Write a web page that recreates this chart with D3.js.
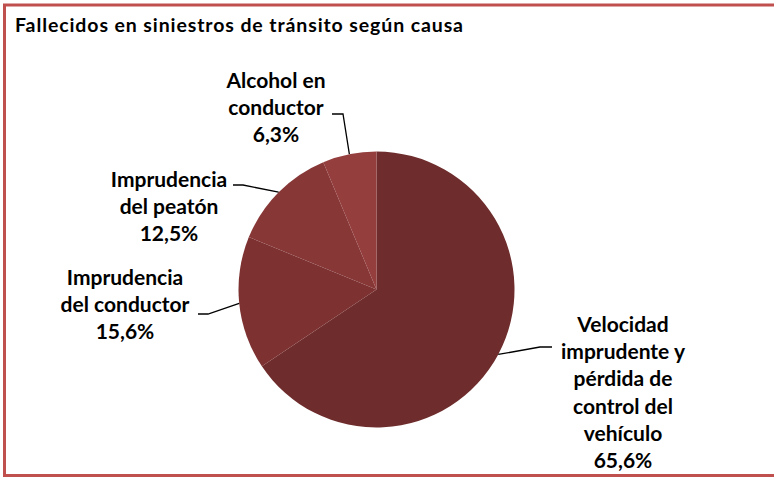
<!DOCTYPE html>
<html>
<head>
<meta charset="utf-8">
<style>
  body { margin: 0; background: #fff; }
  text { font-family: Lato, "Open Sans", sans-serif; font-weight: bold; fill: #000; }
</style>
</head>
<body>
<script src="https://cdn.jsdelivr.net/npm/d3@7/dist/d3.min.js"></script>
<script>
// chart data
var categories = ["Velocidad imprudente y pérdida de control del vehículo",
                  "Imprudencia del conductor",
                  "Imprudencia del peatón",
                  "Alcohol en conductor"];
var values = [65.6, 15.6, 12.5, 6.3];
var labelLines = [
  ["Velocidad", "imprudente y", "pérdida de", "control del", "vehículo"],
  ["Imprudencia", "del conductor"],
  ["Imprudencia", "del peatón"],
  ["Alcohol  en", "conductor"]
];
var colors = ["#6e2c2c", "#7d3131", "#883737", "#953e3e"];

var width = 774, height = 477;
var cx = 376.5, cy = 289.5, r = 138;

// label layout: text centre x, first baseline y, leader elbow and end
var labelPos = [
  {x: 623, y: 332, elbow: [540, 347], end: [552, 347]},
  {x: 125, y: 285, elbow: [208, 314], end: [198, 314]},
  {x: 169, y: 187, elbow: [243, 185], end: [233, 185]},
  {x: 276, y: 88,  elbow: [343, 114], end: [332, 114]}
];
var lineH = 27.2;

var svg = d3.select("body").append("svg")
  .attr("width", width)
  .attr("height", height);

// frame
svg.append("rect")
  .attr("x", 4.5).attr("y", 5)
  .attr("width", width + 10).attr("height", 470.5)
  .attr("fill", "none")
  .attr("stroke", "#c0504d")
  .attr("stroke-width", 3);

// title
svg.append("text")
  .attr("x", 15).attr("y", 32)
  .attr("font-size", 19.5)
  .attr("textLength", 448)
  .attr("lengthAdjust", "spacing")
  .text("Fallecidos  en siniestros de tránsito según causa");

var pie = d3.pie().sort(null).value(function(d) { return d; });
var arcs = pie(values);

var arc = d3.arc().innerRadius(0).outerRadius(r);
var edge = d3.arc().innerRadius(r).outerRadius(r);

var g = svg.append("g").attr("transform", "translate(" + cx + "," + cy + ")");

g.selectAll("path.slice")
  .data(arcs)
  .enter()
  .append("path")
  .attr("class", "slice")
  .attr("d", arc)
  .attr("fill", function(d, i) { return colors[i]; });

// leader lines
svg.selectAll("polyline.leader")
  .data(arcs)
  .enter()
  .append("polyline")
  .attr("class", "leader")
  .attr("fill", "none")
  .attr("stroke", "#000")
  .attr("stroke-width", 1.3)
  .attr("points", function(d, i) {
    var c = edge.centroid(d);
    var p = labelPos[i];
    return [[cx + c[0], cy + c[1]], p.elbow, p.end].map(function(q) { return q.join(","); }).join(" ");
  });

// labels
arcs.forEach(function(d, i) {
  var p = labelPos[i];
  var lines = labelLines[i].concat([d3.format(".1f")(values[i]).replace(".", ",") + "%"]);
  var t = svg.append("text")
    .attr("text-anchor", "middle")
    .attr("font-size", 21);
  lines.forEach(function(s, k) {
    t.append("tspan")
      .attr("x", p.x)
      .attr("y", p.y + k * lineH)
      .text(s);
  });
});
</script>
</body>
</html>
